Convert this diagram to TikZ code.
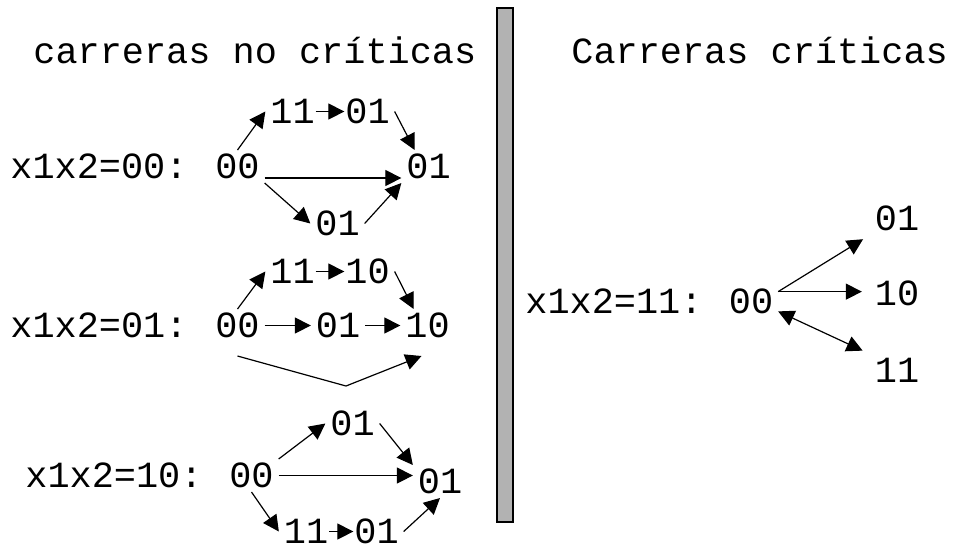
\documentclass[tikz,border=0pt]{standalone}
\usepackage{fontspec}
\setmainfont{Liberation Mono}
\usetikzlibrary{arrows.meta}

\begin{document}
\begin{tikzpicture}[x=0.5pt, y=-0.5pt, font=\fontsize{18.45pt}{22pt}\selectfont,
    >={Triangle[length=8pt,width=8pt]},
    st/.style={inner sep=0pt, outer sep=2.5pt, text height=11.5pt, text depth=0pt, anchor=base},
    lbl/.style={inner sep=0pt, anchor=base west},
    arr/.style={->, line width=0.6pt},
    tight/.style={shorten <=-2pt, shorten >=-2pt}]
    \useasboundingbox (0,0) rectangle (963,548);

    % Divider
    \draw[fill=gray!60, line width=0.6pt] (497,8) rectangle (513,522);

    % Titles
    \node[lbl] (tleft) at (33,63) {carreras no críticas};
    \node[lbl] (tright) at (571,63) {Carreras críticas};

    % x1x2=00
    \node[lbl] (l1) at (10,178) {x1x2=00:};
    \node[st] (a00) at (237.5,178) {00};
    \node[st] (a01) at (428.5,178) {01};
    \node[st] (a11u) at (292.5,123) {11};
    \node[st] (a01u) at (367.5,123) {01};
    \node[st] (a01d) at (337.5,235) {01};
    \draw[arr] (a00.north) -- (a11u.west);
    \draw[arr,tight] (a11u) -- (a01u);
    \draw[arr] (a01u.east) -- (a01.130);
    \draw[arr] (a00.base east) -- (a01.base west);
    \draw[arr] (a00.south east) -- (a01d.west);
    \draw[arr] (a01d.east) -- (a01.south west);

    % x1x2=01
    \node[lbl] (l2) at (10,337) {x1x2=01:};
    \node[st] (b00) at (237.5,337) {00};
    \node[st] (b01) at (338,337) {01};
    \node[st] (b10) at (427.5,337) {10};
    \node[st] (b11u) at (292.5,283) {11};
    \node[st] (b10u) at (367.5,283) {10};
    \draw[arr] (b00.north) -- (b11u.west);
    \draw[arr,tight] (b11u) -- (b10u);
    \draw[arr] (b10u.east) -- (b10.130);
    \draw[arr] (b00) -- (b01);
    \draw[arr] (b01) -- (b10);
    \draw[arr] ([yshift=-7pt]b00.south) -- ([shift={(4pt,-22pt)}]b01.south) -- ([shift={(-3pt,-7pt)}]b10.south);

    % x1x2=10
    \node[lbl] (l3) at (25,487) {x1x2=10:};
    \node[st] (c00) at (251.5,487) {00};
    \node[st] (c01) at (440,493) {01};
    \node[st] (c01u) at (352.5,435) {01};
    \node[st] (c11d) at (306,543) {11};
    \node[st] (c01d) at (376.5,543) {01};
    \draw[arr] (c00.north east) -- (c01u.west);
    \draw[arr] (c01u.east) -- (c01.north west);
    \draw[arr] (c00.east) -- (c00.east -| c01.west);
    \draw[arr] (c00.south) -- (c11d.west);
    \draw[arr,tight] (c11d) -- (c01d);
    \draw[arr] (c01d.east) -- (c01.south);

    % x1x2=11
    \node[lbl] (l4) at (525,313) {x1x2=11:};
    \node[st] (d00) at (751,313) {00};
    \node[st] (d01) at (897,230) {01};
    \node[st] (d10) at (897,305) {10};
    \node[st] (d11) at (897,382) {11};
    \draw[arr, shorten >=4pt] (d00.20) -- (d01.south west);
    \draw[arr, shorten >=4pt] (d00.20) -- (d00.20 -| d10.west);
    \draw[arr, <->, shorten >=4pt] (d00.-20) -- (d11.north west);
\end{tikzpicture}
\end{document}
